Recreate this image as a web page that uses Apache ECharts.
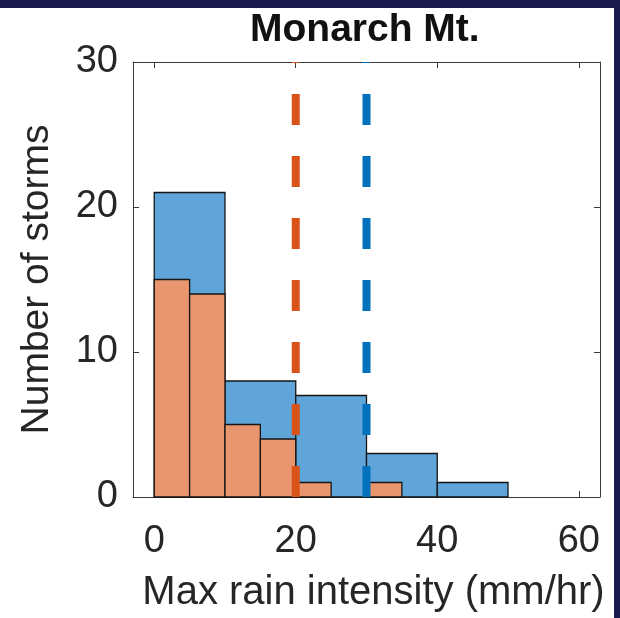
<!DOCTYPE html>
<html>
<head>
<meta charset="utf-8">
<script src="https://cdn.jsdelivr.net/npm/echarts@6/dist/echarts.min.js"></script>
<style>
  html, body { margin: 0; padding: 0; background: #ffffff; }
  #chart { width: 620px; height: 618px; }
</style>
</head>
<body>
<div id="chart"></div>
<script>
// ---- data ----
const titleText = 'Monarch Mt.';
const xAxisName = 'Max rain intensity (mm/hr)';
const yAxisName = 'Number of storms';
const xTicks = [0, 20, 40, 60];
const yTicks = [0, 10, 20, 30];
// blue histogram (bin width 10)
const blueEdges = [0, 10, 20, 30, 40, 50];
const blueCounts = [21, 8, 7, 3, 1];
// orange histogram (bin width 5)
const orangeEdges = [0, 5, 10, 15, 20, 25, 30, 35];
const orangeCounts = [15, 14, 5, 4, 1, 0, 1];
// dashed vertical threshold lines
const orangeThreshold = 20;
const blueThreshold = 30;

// ---- build ----
function bins(edges, counts) {
  return counts.map((c, i) => [edges[i], edges[i + 1], c]);
}
function histItem(fill) {
  return function (params, api) {
    if (api.value(2) <= 0) return null;
    const p0 = api.coord([api.value(0), api.value(2)]);
    const p1 = api.coord([api.value(1), 0]);
    return {
      type: 'rect',
      shape: { x: p0[0], y: p0[1], width: p1[0] - p0[0], height: p1[1] - p0[1] },
      style: { fill: fill, stroke: '#151515', lineWidth: 1.3 }
    };
  };
}
const FONT = '"Liberation Sans", Arial, Helvetica, sans-serif';
const AX = '#3a3a3a';
const TXT = '#262626';

const chart = echarts.init(document.getElementById('chart'), null, { renderer: 'canvas' });
chart.setOption({
  animation: false,
  backgroundColor: '#ffffff',
  title: {
    text: titleText,
    left: 245, top: 6,
    textStyle: { fontFamily: FONT, fontWeight: 'bold', fontSize: 39, color: '#111' }
  },
  grid: { left: 133, right: 20, top: 62, bottom: 116, containLabel: false },
  xAxis: [{
    type: 'value', min: -3, max: 63, position: 'bottom',
    name: xAxisName, nameLocation: 'middle', nameGap: 76,
    nameTextStyle: { fontFamily: FONT, fontSize: 40, color: TXT, padding: [0, 0, 0, 14] },
    axisLine: { show: true, onZero: false, lineStyle: { color: AX, width: 1 } },
    axisTick: { show: true, inside: true, length: 6, customValues: xTicks, lineStyle: { color: AX } },
    axisLabel: { customValues: xTicks, margin: 26, fontFamily: FONT, fontSize: 38, color: TXT },
    splitLine: { show: false }
  }, {
    type: 'value', min: -3, max: 63, position: 'top',
    axisLine: { show: true, onZero: false, lineStyle: { color: AX, width: 1 } },
    axisTick: { show: true, inside: true, length: 6, customValues: xTicks, lineStyle: { color: AX } },
    axisLabel: { show: false },
    splitLine: { show: false }
  }],
  yAxis: [{
    type: 'value', min: 0, max: 30, interval: 10, position: 'left',
    name: yAxisName, nameLocation: 'middle', nameGap: 76,
    nameTextStyle: { fontFamily: FONT, fontSize: 39, color: TXT, padding: [0, 0, 0, 0] },
    axisLine: { show: true, onZero: false, lineStyle: { color: AX, width: 1 } },
    axisTick: { show: true, inside: true, length: 6, customValues: yTicks, lineStyle: { color: AX } },
    axisLabel: { customValues: yTicks, margin: 15, fontFamily: FONT, fontSize: 38, color: TXT },
    splitLine: { show: false }
  }, {
    type: 'value', min: 0, max: 30, interval: 10, position: 'right',
    axisLine: { show: true, onZero: false, lineStyle: { color: AX, width: 1 } },
    axisTick: { show: true, inside: true, length: 6, customValues: yTicks, lineStyle: { color: AX } },
    axisLabel: { show: false },
    splitLine: { show: false }
  }],
  graphic: [
    { type: 'rect', shape: { x: 0, y: 0, width: 620, height: 8 }, style: { fill: '#1b1a4d' }, z: 100 },
    { type: 'rect', shape: { x: 614, y: 0, width: 6, height: 618 }, style: { fill: '#1b1a4d' }, z: 100 }
  ],
  series: [
    {
      type: 'custom', name: 'blue', xAxisIndex: 0, yAxisIndex: 0, z: 2,
      renderItem: histItem('#5fa5d9'),
      encode: { x: [0, 1], y: 2 },
      data: bins(blueEdges, blueCounts)
    },
    {
      type: 'custom', name: 'orange', xAxisIndex: 0, yAxisIndex: 0, z: 3,
      renderItem: histItem('#e9966f'),
      encode: { x: [0, 1], y: 2 },
      data: bins(orangeEdges, orangeCounts)
    },
    {
      type: 'line', name: 'orangeLine', z: 5, symbol: 'none', silent: true,
      lineStyle: { color: '#d95319', width: 8, type: [31, 31], cap: 'butt' },
      data: [[orangeThreshold, 0], [orangeThreshold, 30]]
    },
    {
      type: 'line', name: 'blueLine', z: 5, symbol: 'none', silent: true,
      lineStyle: { color: '#0072bd', width: 8, type: [31, 31], cap: 'butt' },
      data: [[blueThreshold, 0], [blueThreshold, 30]]
    }
  ]
});
</script>
</body>
</html>
